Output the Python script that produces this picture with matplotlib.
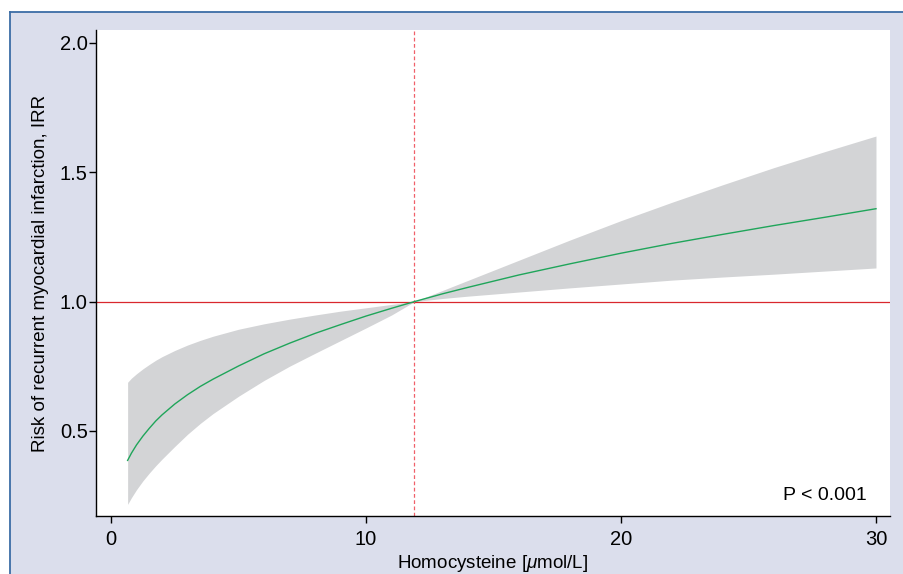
"""
Spline plot: homocysteine vs risk of recurrent myocardial infarction (IRR)
"""

import matplotlib.pyplot as plt
from matplotlib.lines import Line2D
from matplotlib.patches import Rectangle

plt.rcParams['font.family'] = ['Liberation Sans', 'DejaVu Sans']
plt.rcParams['mathtext.fontset'] = 'custom'
plt.rcParams['mathtext.it'] = 'Liberation Sans:italic'
plt.rcParams['mathtext.rm'] = 'Liberation Sans'

# values
homocysteine = [0.65, 0.8, 1.0, 1.25, 1.5, 1.75, 2.0, 2.5, 3.0, 3.5, 4.0, 5.0, 6.0, 7.0,
                8.0, 9.0, 10.0, 11.0, 11.9, 13.0, 14.0, 16.0, 18.0, 20.0, 22.0, 24.0,
                26.0, 28.0, 30.0]
irr = [0.386, 0.414, 0.446, 0.480, 0.510, 0.538, 0.562, 0.604, 0.640, 0.672, 0.700,
       0.751, 0.798, 0.839, 0.877, 0.911, 0.944, 0.974, 1.0, 1.030, 1.055, 1.103,
       1.146, 1.187, 1.225, 1.260, 1.294, 1.326, 1.359]
ci_upper = [0.688, 0.704, 0.721, 0.740, 0.757, 0.773, 0.787, 0.811, 0.832, 0.850, 0.866,
            0.893, 0.914, 0.932, 0.948, 0.963, 0.976, 0.989, 1.0, 1.043, 1.082, 1.160,
            1.238, 1.313, 1.384, 1.452, 1.518, 1.580, 1.640]
ci_lower = [0.216, 0.242, 0.273, 0.307, 0.337, 0.365, 0.391, 0.440, 0.487, 0.529, 0.567,
            0.634, 0.695, 0.750, 0.800, 0.849, 0.898, 0.948, 1.0, 1.012, 1.021, 1.037,
            1.053, 1.068, 1.083, 1.095, 1.106, 1.118, 1.130]
reference_value = 11.9
x_ticks = [0, 10, 20, 30]
y_ticks = [0.5, 1.0, 1.5, 2.0]

fig = plt.figure(figsize=(9.04, 5.74), dpi=100)
fig.patch.set_facecolor('white')

# lavender frame with blue top/left border
fig.patches.append(Rectangle((9.5 / 904, 0), 1, 1 - 11.5 / 574, transform=fig.transFigure,
                             facecolor='#DBDEEC', edgecolor='none', zorder=-2))
fig.lines.append(Line2D([9.5 / 904, 1], [1 - 11.5 / 574] * 2, transform=fig.transFigure,
                        color='#3C6DA6', linewidth=1.3, zorder=-1))
fig.lines.append(Line2D([9.5 / 904] * 2, [0, 1 - 11.5 / 574], transform=fig.transFigure,
                        color='#3C6DA6', linewidth=1.3, zorder=-1))

ax = fig.add_axes([96 / 904, 1 - 516 / 574, 794 / 904, 486 / 574])
ax.set_facecolor('white')

ax.fill_between(homocysteine, ci_lower, ci_upper, color='#D3D4D6', linewidth=0, zorder=1)
ax.plot(homocysteine, irr, color='#1FA55A', linewidth=1.0, zorder=3)
ax.axhline(1.0, color='#D9282E', linewidth=0.9, zorder=2)
ax.axvline(reference_value, color='#F0606A', linewidth=0.9, linestyle=(0, (3, 2)), zorder=2)

ax.set_xlim(-0.59, 30.55)
ax.set_ylim(0.171, 2.05)
ax.set_xticks(x_ticks)
ax.set_yticks(y_ticks)
ax.set_yticklabels([f'{v:.1f}' for v in y_ticks])

for side in ['top', 'right']:
    ax.spines[side].set_visible(False)
for side in ['left', 'bottom']:
    ax.spines[side].set_linewidth(1.0)
    ax.spines[side].set_color('black')

ax.tick_params(axis='both', direction='out', length=5, width=1.0, labelsize=14.5, colors='black')
ax.tick_params(axis='x', pad=5)
ax.tick_params(axis='y', pad=1)

ax.set_xlabel(r'Homocysteine [$\mu$mol/L]', fontsize=13.5, labelpad=3)
ax.set_ylabel('Risk of recurrent myocardial infarction, IRR', fontsize=13.5, labelpad=8)

ax.text(0.971, 0.033, 'P < 0.001', transform=ax.transAxes, ha='right', va='baseline',
        fontsize=14)

plt.savefig('out.png', dpi=100, facecolor='white')
plt.close()
